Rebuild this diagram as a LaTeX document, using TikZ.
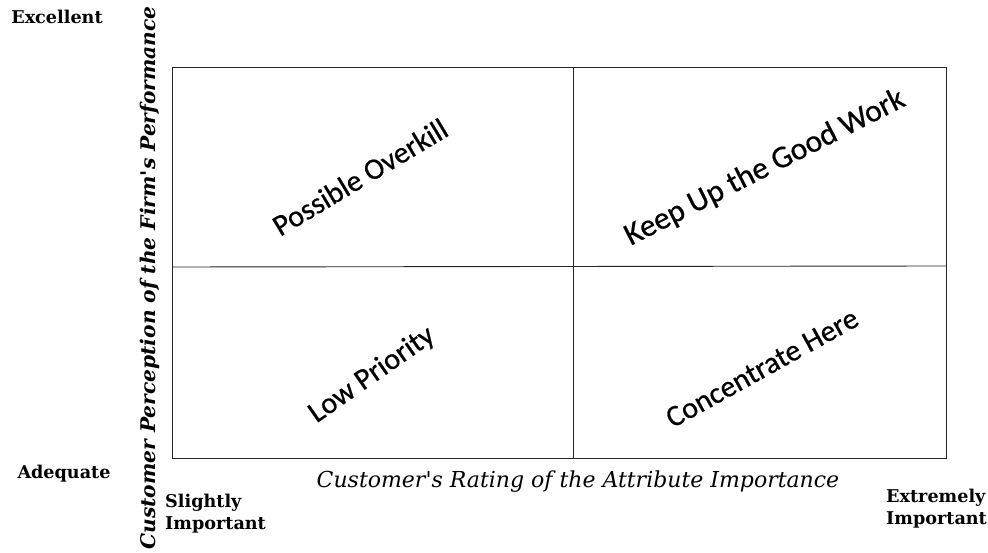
\documentclass[tikz,border=0pt]{standalone}
\usepackage{fontspec}
\setmainfont{DejaVu Serif}
\newfontfamily\quadfont[FakeBold=0.6]{Carlito}
\begin{document}
\begin{tikzpicture}[x=1pt,y=-1pt,
  frame/.style={draw=black!85,line width=0.9pt},
  endlabel/.style={font=\bfseries\fontsize{17.6}{21.5}\selectfont,inner sep=0pt},
  quadlabel/.style={font=\quadfont\fontsize{30}{34}\selectfont,inner sep=0pt},
  axislabel/.style={inner sep=0pt}]
\useasboundingbox (0,0) rectangle (988,553);
\fill[white] (0,0) rectangle (988,553);

% grid box and quadrant dividers
\coordinate (tl) at (172,67);
\coordinate (br) at (946,458);
\coordinate (mt) at (573,67);
\coordinate (mb) at (573,458);
\coordinate (ml) at (172,267);
\coordinate (mr) at (946,266);
\draw[frame] (tl) rectangle (br);
\draw[frame] (mt) -- (mb);
\draw[frame] (ml) -- (mr);

% vertical axis
\node[endlabel] (exc) at (57,17) {Excellent};
\node[endlabel] (adq) at (64,474) {Adequate};
\node[axislabel,rotate=90,font=\bfseries\itshape\fontsize{20.2}{24}\selectfont] (ylab) at (150,278)
  {Customer Perception of the Firm\textquotesingle s Performance};

% horizontal axis
\node[axislabel,font=\itshape\fontsize{22}{26}\selectfont] (xlab) at (578,482)
  {Customer\textquotesingle s Rating of the Attribute Importance};
\node[endlabel,align=left,anchor=north west] (slight) at (165,494) {Slightly\\Important};
\node[endlabel,align=left,anchor=north west] (extreme) at (886,489) {Extremely\\Important};

% quadrant captions
\node[quadlabel,rotate=31] (q1) at (360,177) {Possible Overkill};
\node[quadlabel,rotate=27,font=\quadfont\fontsize{31.5}{34}\selectfont] (q2) at (765,168) {Keep Up the Good Work};
\node[quadlabel,rotate=35] (q3) at (372,375) {Low Priority};
\node[quadlabel,rotate=29] (q4) at (762,368) {Concentrate Here};
\end{tikzpicture}
\end{document}
